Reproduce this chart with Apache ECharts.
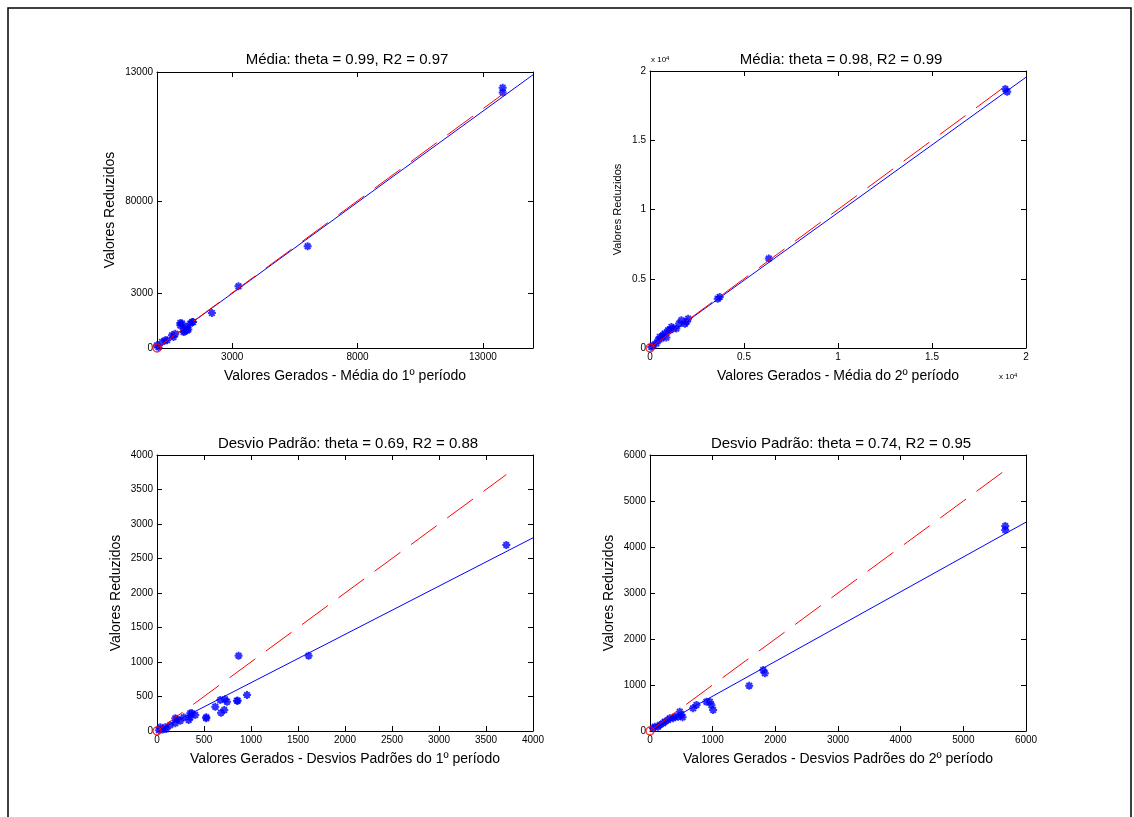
<!DOCTYPE html>
<html>
<head>
<meta charset="utf-8">
<script src="https://cdn.jsdelivr.net/npm/echarts@6/dist/echarts.min.js"></script>
<style>
html,body{margin:0;padding:0;background:#fff;}
#chart{width:1134px;height:817px;}
</style>
</head>
<body>
<div id="chart"></div>
<script>
// ---------- DATA ----------
const titles = [
  'Média: theta = 0.99, R2 = 0.97',
  'Média: theta = 0.98, R2 = 0.99',
  'Desvio Padrão: theta = 0.69, R2 = 0.88',
  'Desvio Padrão: theta = 0.74, R2 = 0.95'
];
const xNames = [
  'Valores Gerados - Média do 1º período',
  'Valores Gerados - Média do 2º período',
  'Valores Gerados - Desvios Padrões do 1º período',
  'Valores Gerados - Desvios Padrões do 2º período'
];
const yName = 'Valores Reduzidos';

// Plot 1: Média, 1º período
const mean1X = [0, 60, 200, 330, 400, 600, 660, 730, 930, 930, 1000, 1060, 1060, 1100, 1200, 1200, 1250, 1330, 1400, 1440, 2190, 3250, 6010, 13790, 13790];
const mean1Y = [150, 40, 330, 420, 420, 690, 600, 780, 1230, 1360, 1330, 1050, 870, 900, 1140, 960, 1000, 1330, 1410, 1410, 1900, 3350, 5530, 14150, 13880];
// Plot 2: Média, 2º período
const mean2X = [70, 160, 340, 430, 520, 610, 690, 780, 870, 960, 1050, 1140, 1230, 1400, 1550, 1670, 1860, 1950, 2030, 3600, 3710, 6320, 18900, 19000];
const mean2Y = [70, 200, 320, 560, 800, 680, 920, 1040, 750, 1280, 1280, 1520, 1400, 1400, 1760, 2000, 1750, 1900, 2120, 3550, 3690, 6460, 18700, 18500];
// Plot 3: Desvio padrão, 1º período
const sd1X = [20, 35, 60, 88, 100, 142, 195, 195, 213, 248, 284, 337, 354, 354, 372, 407, 524, 524, 620, 673, 681, 716, 723, 745, 851, 858, 868, 957, 1613, 3716];
const sd1Y = [10, 54, 20, 54, 30, 87, 112, 184, 170, 149, 198, 159, 198, 256, 256, 232, 198, 184, 352, 449, 265, 304, 459, 425, 439, 439, 1091, 522, 1091, 2696];
// Plot 4: Desvio padrão, 2º período
const sd2X = [48, 75, 128, 155, 208, 235, 288, 315, 368, 395, 448, 475, 502, 520, 688, 742, 901, 954, 981, 1007, 1583, 1806, 1833, 5669, 5669];
const sd2Y = [59, 93, 93, 130, 167, 202, 239, 276, 276, 311, 311, 420, 348, 300, 493, 565, 638, 638, 560, 457, 985, 1326, 1253, 4457, 4370];

// Fitted (blue) line: value reached at the right edge of each axis
const fitEndY = [14850, 19550, 2800, 4540];

// Axis ranges and ticks
const axisMax = [15000, 20000, 4000, 6000];
const xTickValues1 = [3000, 8000, 13000];
const yTickValues1 = [0, 3000, 8000, 15000];
const yTickLabels1 = ['0', '3000', '80000', '13000'];
const tickInterval = [null, 5000, 500, 1000];

// ---------- LAYOUT ----------
const FONT = "'Liberation Sans', Arial, Helvetica, sans-serif";
const grids = [
  {left: 157, top: 72, width: 376, height: 276},
  {left: 650, top: 71, width: 376, height: 277},
  {left: 157, top: 455, width: 376, height: 276},
  {left: 650, top: 455, width: 376, height: 276}
];
const titlePos = [[342, 47], [836, 47], [343, 431], [836, 431]];
const yNameGap = [40, 27, 34, 34];
const yNameSize = [14, 11, 14, 14];

const xsAll = [mean1X, mean2X, sd1X, sd2X];
const ysAll = [mean1Y, mean2Y, sd1Y, sd2Y];

const BLUE = '#0000ff', RED = '#ff0000';
const asterisk = 'path://M0,-10L0,10M-10,0L10,0M-7,-7L7,7M-7,7L7,-7';

const xAxes = [], yAxes = [], series = [], titleArr = [];

function baseAxis(i, pos, showLabel) {
  const a = {
    type: 'value', gridIndex: i, position: pos, min: 0, max: axisMax[i],
    axisLine: {show: true, onZero: false, lineStyle: {color: '#000', width: 1}},
    axisTick: {show: true, inside: true, length: 5, lineStyle: {color: '#000', width: 1}},
    axisLabel: {show: showLabel, color: '#000', fontSize: 10, fontFamily: FONT, margin: 4,
                formatter: v => String(v)},
    splitLine: {show: false}
  };
  if (tickInterval[i]) a.interval = tickInterval[i];
  return a;
}

for (let i = 0; i < 4; i++) {
  const xb = baseAxis(i, 'bottom', true);
  const xt = baseAxis(i, 'top', false);
  const yl = baseAxis(i, 'left', true);
  const yr = baseAxis(i, 'right', false);
  xb.name = xNames[i];
  xb.nameLocation = 'middle';
  xb.nameGap = 21;
  xb.nameTextStyle = {color: '#000', fontSize: 14, fontFamily: FONT};
  yl.name = yName;
  yl.nameLocation = 'middle';
  yl.nameGap = yNameGap[i];
  yl.nameTextStyle = {color: '#000', fontSize: yNameSize[i], fontFamily: FONT};
  if (i === 0) {
    [xb, xt].forEach(a => { a.axisTick.customValues = xTickValues1; });
    xb.axisLabel.customValues = xTickValues1;
    [yl, yr].forEach(a => { a.axisTick.customValues = yTickValues1; });
    yl.axisLabel.customValues = yTickValues1;
    yl.axisLabel.formatter = v => yTickLabels1[yTickValues1.indexOf(v)];
  }
  if (i === 1) {
    xb.axisLabel.formatter = v => String(v / 10000);
    yl.axisLabel.formatter = v => String(v / 10000);
  }
  xAxes.push(xb, xt);
  yAxes.push(yl, yr);
  const xi = 2 * i, yi = 2 * i;

  const xs = xsAll[i], ys = ysAll[i];
  const pts = xs.map((x, k) => [x, ys[k]]);
  const xMaxData = Math.max.apply(null, xs);

  series.push({
    type: 'scatter', xAxisIndex: xi, yAxisIndex: yi, data: pts,
    symbol: asterisk, symbolSize: 8,
    itemStyle: {color: BLUE, borderColor: BLUE, borderWidth: 2},
    silent: true, z: 2
  });
  series.push({
    type: 'line', xAxisIndex: xi, yAxisIndex: yi,
    data: [[0, 0], [axisMax[i], fitEndY[i]]],
    showSymbol: false, lineStyle: {color: BLUE, width: 1}, silent: true, z: 3
  });
  series.push({
    type: 'line', xAxisIndex: xi, yAxisIndex: yi,
    data: [[0, 0], [xMaxData, xMaxData]],
    showSymbol: false, lineStyle: {color: RED, width: 1, type: [32, 13]}, silent: true, z: 4
  });
  series.push({
    type: 'scatter', xAxisIndex: xi, yAxisIndex: yi, data: [[0, 0]],
    symbol: 'circle', symbolSize: 8,
    itemStyle: {color: 'rgba(0,0,0,0)', borderColor: RED, borderWidth: 1.5},
    silent: true, z: 5
  });

  titleArr.push({
    text: titles[i], left: titlePos[i][0], top: titlePos[i][1], textAlign: 'center',
    textStyle: {color: '#000', fontSize: 15, fontWeight: 'normal', fontFamily: FONT}
  });
}

const option = {
  backgroundColor: '#fff',
  animation: false,
  title: titleArr,
  grid: grids.map(g => Object.assign({containLabel: false, show: false}, g)),
  xAxis: xAxes,
  yAxis: yAxes,
  series: series,
  graphic: [
    {type: 'rect', shape: {x: 8, y: 8, width: 1123, height: 900}, style: {fill: 'none', stroke: '#000', lineWidth: 1.5}, silent: true, z: 100},
    {type: 'text', left: 651, top: 55, style: {text: '{a|x 10}{s|4}', rich: {a: {fontSize: 8, fontFamily: FONT, fill: '#000'}, s: {fontSize: 6, fontFamily: FONT, fill: '#000', verticalAlign: 'top', padding: [0, 0, 4, 0]}}}},
    {type: 'text', left: 999, top: 372, style: {text: '{a|x 10}{s|4}', rich: {a: {fontSize: 8, fontFamily: FONT, fill: '#000'}, s: {fontSize: 6, fontFamily: FONT, fill: '#000', verticalAlign: 'top', padding: [0, 0, 4, 0]}}}}
  ]
};

const chart = echarts.init(document.getElementById('chart'), null, {renderer: 'canvas'});
chart.setOption(option);
</script>
</body>
</html>
